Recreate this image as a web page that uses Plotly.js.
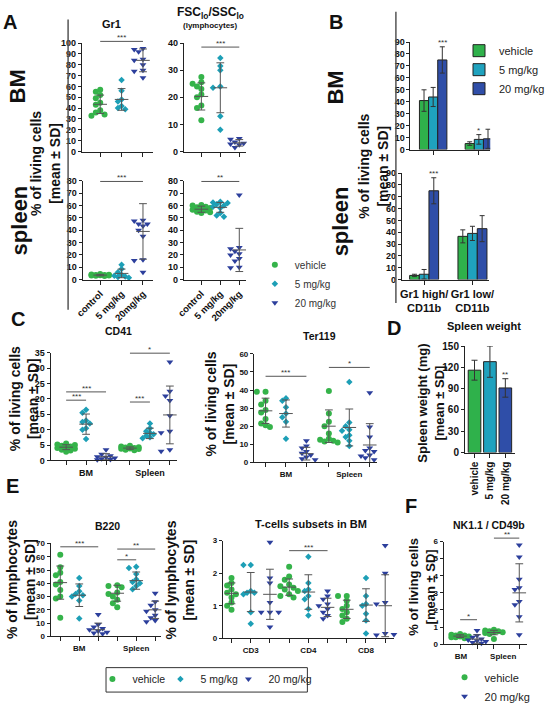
<!DOCTYPE html>
<html><head><meta charset="utf-8">
<script src="https://cdn.plot.ly/plotly-3.0.1.min.js"></script>
<style>body{margin:0;background:#fff}#c{width:550px;height:711px}</style>
</head><body><div id="c"></div>
<script>
// ================= DATA =================
const treatNames = ['vehicle','5 mg/kg','20 mg/kg'];

// Panel A (columns: control, 5 mg/kg, 20 mg/kg)
const groupsA = ['control','5 mg/kg','20mg/kg'];
const gr1BM_pts = [[57,55,52,49,45,43,38,36,34,33],[66,56,48,46,42,40,39],[95,94,92,85,84,80,75,74,68]];
const gr1BM_mean = [43.5,48,84];
const gr1BM_sd = [8.5,10,10.5];
const fscBM_pts = [[27.5,25.5,25,24,23,21,20,17,16,11.5],[34.5,31.5,30,24,23.5,13,8],[4.8,4.5,4.2,3.5,3,2.8,2.5,2,1.5]];
const fscBM_mean = [20.3,23.5,3.2];
const fscBM_sd = [5,9.2,1.2];
const gr1Spl_pts = [[4.5,4.2,4,3.8,3.6,3.5,3.3,3.2,3,2.8],[12,8.5,6,4,3,2.5,2,1.5],[48,47.5,45,45,43.5,40,35,16,15.5,6]];
const gr1Spl_mean = [3.6,5,39];
const gr1Spl_sd = [0.6,3.5,22.5];
const fscSpl_pts = [[60.5,60,59,58.5,58,57,56.5,56,55,54.5,54],[63,62.5,62,61,60,59,58,54,52,51],[68.5,26,25,23,21,20,17,15,10,9.5]];
const fscSpl_mean = [57,58.5,24];
const fscSpl_sd = [2.5,4,17.5];

// Panel B (bars, mean ± SD)
const groupsB = ['Gr1 high/<br>CD11b','Gr1 low/<br>CD11b'];
const bmVeh = [41,5],   bmVehSd = [9,1.5];
const bm5 = [44,8.5],   bm5Sd = [8,4];
const bm20 = [75,9],    bm20Sd = [11,8];
const splVeh = [3.5,36.5], splVehSd = [1,5.5];
const spl5 = [4.5,39],     spl5Sd = [4,6];
const spl20 = [75,43],     spl20Sd = [11,11];

// Panel C (columns: BM veh,5,20 | Spleen veh,5,20)
const organs = ['BM','Spleen'];
const cd41_pts = [[5.5,5.2,5,4.8,4.5,4.2,4,3.8,3.5,3.2,2.8],[16.5,15.5,13,12.5,12,10.5,10,7],[3.5,2,1.5,1.2,1,0.8,0.5,0.3,0.2],
                  [4.8,4.5,4.3,4.2,4,3.9,3.8,3.7,3.5,3.3],[12,10.5,9.5,9,8.5,8,7.5,7.2],[32,22.5,21,19.5,14.5,9.5,9,3.5,3]];
const cd41_mean = [4.3,11.8,1.2,4,8.8,14.8];
const cd41_sd = [0.8,3.3,1,0.4,1.7,9.4];
const ter_pts = [[39,39,34,32,29,27.5,24,21.5,20.5,19.5],[35.5,34,30.5,27,25,22.5,13],[12,9,8,6,5,4,3,2,1.5],
                 [39.5,27,22.5,20,16,13,12.5,12,11.5,11],[44.5,22,20,18,17.5,15,14,12,9],[38.5,19.5,14,8,6.5,6,4,3.5,2.5,1.5]];
const ter_mean = [28.5,27,4.8,20,19.3,9.6];
const ter_sd = [7,7.5,3.5,9,10.2,11.8];

// Panel D
const spwLabels = ['vehicle','5 mg/kg','20 mg/kg'];
const spwMean = [116,128,91];
const spwSd = [14,22,13];

// Panel E
const b220_pts = [[61.5,52,48,46,41,39,35,30,28.5,14],[44,38,34,32,31,30,27,13.5],[16.5,9,7,6,5,4,3,2.5,2],
                  [38.5,38,37,33,32,30,27.5,25,22],[52.5,51.5,47,43,41,40,38,35.5],[32.5,26,23.5,20,19,16,14,12,11]];
const b220_mean = [40.5,31,5,32.5,42,20];
const b220_sd = [12.5,8.5,5,6,6.5,6.5];
const tSubsets = ['CD3','CD4','CD8'];
const tcell_pts = [[1.85,1.7,1.62,1.5,1.4,1.35,1.25,1.1,1.0,0.88],[2.25,2.25,1.45,1.4,1.4,1.35,0.8,0.45],[2.95,1.85,1.7,1.1,0.8,0.8,0.8,0.35],
                   [2.2,1.9,1.8,1.65,1.6,1.55,1.5,1.45,1.35,1.3,1.25],[2.5,1.7,1.5,1.45,1.3,1.2,0.9,0.7],[1.45,1.3,1.2,1.05,1.0,0.9,0.8,0.7,0.6],
                   [1.3,1.3,1.15,1.0,0.9,0.8,0.7,0.6,0.5],[1.85,1.3,1.05,1.0,0.75,0.55,0.15],[2.85,2.0,1.1,1.05,0.15,0.1,0.12]];
const tcell_mean = [1.38,1.42,1.35,1.57,1.42,0.95,0.89,1.02,1.0];
const tcell_sd = [0.32,0.6,0.77,0.25,0.53,0.28,0.28,0.5,0.95];

// Panel F (columns: BM veh, BM 20 | Spleen veh, Spleen 20)
const nk_pts = [[0.6,0.55,0.5,0.5,0.45,0.45,0.4,0.4,0.35],[0.8,0.5,0.4,0.3,0.25,0.2,0.15,0.1,0.05],
                [0.85,0.8,0.75,0.75,0.7,0.7,0.65,0.6,0.3],[5.8,5.1,3.8,3.3,3.2,2.5,2.3,1.6,0.55]];
const nk_mean = [0.47,0.3,0.68,3.0];
const nk_sd = [0.08,0.25,0.13,1.7];

// significance brackets: [colA, colB, yLevel, stars]
const sig_gr1BM = [[0,2,101.5,'***']];
const sig_fscBM = [[0,2,38.5,'***']];
const sig_gr1Spl = [[0,2,79.5,'***']];
const sig_fscSpl = [[0,2,79.5,'**']];
const sig_cd41 = [[0,1,19.6,'***'],[0,2,22.3,'***'],[3,4,19,'***'],[3,5,34.9,'*']];
const sig_ter = [[0,2,47.6,'***'],[3,5,52.5,'*']];
const sig_b220 = [[0,2,67.5,'***'],[3,4,57.7,'*'],[3,5,65.8,'**']];
const sig_tcell = [[3,5,2.69,'***']];
const sig_nk = [[0,1,1.43,'*'],[2,3,6.2,'**']];

// ================= LAYOUT / STYLE =================
const W = 550, H = 711;
const SYM = ['circle','diamond','triangle-down'];
const SIZE = [6,5,6];
const COL = ['#35b34a','#1d9fb6','#2c3f9c'];
const BARCOL = ['#2fb14b','#1fa2be','#2f4ea8'];
const FAM = '"Liberation Sans", Arial, sans-serif';
const NARROW = '"Liberation Sans Narrow", "Liberation Sans", Arial, sans-serif';

const PANELS = {
  gr1BM:  {i:1,  px:[84,157],  py:[44,155],  xr:[-0.864,2.455], yr:[0,100], dtick:10, fs:9},
  fscBM:  {i:2,  px:[189,253], py:[44,155],  xr:[-0.923,2.359], yr:[0,40],  dtick:10, fs:9},
  gr1Spl: {i:3,  px:[85,157],  py:[185,286], xr:[-0.818,2.455], yr:[0,80],  dtick:10, fs:9},
  fscSpl: {i:4,  px:[189,253], py:[185,286], xr:[-0.923,2.359], yr:[0,80],  dtick:10, fs:9},
  barBM:  {i:5,  px:[422,504], py:[43,153],  xr:[-0.496,1.249], yr:[0,90],  dtick:10, fs:9},
  barSpl: {i:6,  px:[413,503], py:[177,286], xr:[-0.463,1.348], yr:[0,90],  dtick:10, fs:9},
  cd41:   {i:7,  px:[52,182],  py:[361,471], xr:[-0.78,5.56],   yr:[0,35],  dtick:5,  fs:9},
  ter:    {i:8,  px:[261,388], py:[362,473], xr:[-0.571,5.476], yr:[0,60],  dtick:10, fs:8},
  spw:    {i:9,  px:[478,529], py:[354,463], xr:[-0.62,2.6],    yr:[0,150], dtick:30, fs:10},
  b220:   {i:10, px:[52,166],  py:[556,651], xr:[-0.51,5.33],   yr:[0,70],  dtick:10, fs:8},
  tcell:  {i:11, px:[229,405], py:[553,653], xr:[-0.456,8.456], yr:[0,3],   dtick:1,  fs:8},
  nk:     {i:12, px:[456,542], py:[554,659], xr:[-0.98,3.97],   yr:[0,6],   dtick:1,  fs:8}
};
const colsA = [0,1,2], treatA = [0,1,2];
const colsCD41 = [0,1,2,3.2,4.2,5.2];
const colsTer = [0,1,2,3.1,4.1,5.1];
const colsB220 = [0,1,2,3,4,5];
const colsT = [0,1,2,3,4,5,6,7,8];
const colsNK = [0,1,2,3.5];
const treat6 = [0,1,2,0,1,2];
const treat9 = [0,1,2,0,1,2,0,1,2];
const treatNK = [0,2,0,2];

function ax(i){return i===1?['x','y']:['x'+i,'y'+i];}
function P(key,x,y){
  const p=PANELS[key];
  const fx=(x-p.xr[0])/(p.xr[1]-p.xr[0]), fy=(y-p.yr[0])/(p.yr[1]-p.yr[0]);
  const xp=p.px[0]+fx*(p.px[1]-p.px[0]), yp=p.py[1]-fy*(p.py[1]-p.py[0]);
  return [xp/W, 1-yp/H];
}
const traces=[], annotations=[], shapes=[];
const layout = {
  width:W, height:H, margin:{l:0,r:0,t:0,b:0}, autosize:false,
  paper_bgcolor:'#fff', plot_bgcolor:'rgba(0,0,0,0)',
  font:{family:FAM, color:'#111'}, barmode:'group', bargap:0.4, bargroupgap:0,
  showlegend:true, hovermode:false
};

function tickFont(size){return {family:NARROW, size:size, color:'#111', weight:'bold'};}
function setAxes(key, xopts){
  const p=PANELS[key], [xa,ya]=ax(p.i);
  const xn = p.i===1?'xaxis':'xaxis'+p.i, yn = p.i===1?'yaxis':'yaxis'+p.i;
  layout[yn] = {domain:[1-p.py[1]/H, 1-p.py[0]/H], range:p.yr, anchor:xa, showline:true, linecolor:'#222', linewidth:1,
    ticks:'outside', ticklen:3, tickwidth:1, tickcolor:'#222', tickmode:'linear', tick0:0, dtick:p.dtick,
    showgrid:false, zeroline:false, tickfont:tickFont(p.fs), fixedrange:true};
  layout[xn] = Object.assign({domain:[p.px[0]/W, p.px[1]/W], range:p.xr, anchor:ya, showline:true, linecolor:'#222', linewidth:1,
    ticks:'outside', ticklen:4, tickwidth:1, tickcolor:'#222', tickmode:'array', showgrid:false, zeroline:false,
    tickfont:tickFont(p.fs), fixedrange:true}, xopts);
}

function scatterPanel(key, pts, means, sds, cols, treat, legendId){
  const p=PANELS[key], [xa,ya]=ax(p.i);
  const ux=(p.px[1]-p.px[0])/(p.xr[1]-p.xr[0]);
  const uy=(p.py[1]-p.py[0])/(p.yr[1]-p.yr[0]);
  const xs=[[],[],[]], ys=[[],[],[]];
  pts.forEach((col,j)=>{
    const t=treat[j], d=SIZE[t], placed=[];
    col.forEach(v=>{
      const yp=v*uy; let best=0, bestD=-1;
      for(const k of [0,-1,1,-2,2]){
        const dx=k*d*0.75;
        const md=placed.length?Math.min(...placed.map(q=>Math.hypot(q[0]-dx,q[1]-yp))):1e9;
        if(md>=d*0.8){best=dx;bestD=md;break;}
        if(md>bestD){bestD=md;best=dx;}
      }
      placed.push([best,yp]);
      xs[t].push(cols[j]+best/ux); ys[t].push(v);
    });
  });
  for(let t=0;t<3;t++){
    if(!xs[t].length) continue;
    traces.push({type:'scatter', mode:'markers', x:xs[t], y:ys[t], xaxis:xa, yaxis:ya, name:treatNames[t],
      marker:{symbol:SYM[t], size:SIZE[t], color:COL[t], line:{width:0}}, cliponaxis:false,
      showlegend:!!legendId, legend:legendId||'legend'});
  }
  const mx=[], my=[], mw=7/ux, cw=4/ux;
  cols.forEach((c,j)=>{
    const m=means[j], s=sds[j];
    mx.push(c-mw,c+mw,null,c,c,null,c-cw,c+cw,null,c-cw,c+cw,null);
    my.push(m,m,null,m-s,m+s,null,m+s,m+s,null,m-s,m-s,null);
  });
  traces.push({type:'scatter', mode:'lines', x:mx, y:my, xaxis:xa, yaxis:ya, line:{color:'#555',width:1},
    showlegend:false, hoverinfo:'skip'});
}

function sig(key, cols, list){
  list.forEach(([a,b,y,txt])=>{
    const p1=P(key,cols[a],y), p2=P(key,cols[b],y);
    shapes.push({type:'line', xref:'paper', yref:'paper', x0:p1[0], y0:p1[1], x1:p2[0], y1:p2[1], line:{color:'#555',width:1}});
    annotations.push({xref:'paper', yref:'paper', x:(p1[0]+p2[0])/2, y:p1[1], text:txt, showarrow:false,
      xanchor:'center', yanchor:'bottom', yshift:-3, font:{family:FAM,size:8,color:'#333'}});
  });
}
function star(key,x,y,txt){
  const q=P(key,x,y);
  annotations.push({xref:'paper', yref:'paper', x:q[0], y:q[1], text:txt, showarrow:false,
    xanchor:'center', yanchor:'bottom', yshift:-2, font:{family:FAM,size:8,color:'#333'}});
}
function A(x,y,text,size,o){
  return Object.assign({xref:'paper', yref:'paper', x:x/W, y:1-y/H, text:text, showarrow:false,
    xanchor:'center', yanchor:'middle', font:{family:FAM,size:size,color:'#111'}}, o||{});
}

// ---------- Panel A ----------
setAxes('gr1BM', {tickvals:colsA, showticklabels:false});
setAxes('fscBM', {tickvals:colsA, showticklabels:false});
setAxes('gr1Spl', {tickvals:colsA, ticktext:groupsA, tickangle:-45, tickfont:tickFont(9.5)});
setAxes('fscSpl', {tickvals:colsA, ticktext:groupsA, tickangle:-45, tickfont:tickFont(9.5)});
scatterPanel('gr1BM', gr1BM_pts, gr1BM_mean, gr1BM_sd, colsA, treatA);
scatterPanel('fscBM', fscBM_pts, fscBM_mean, fscBM_sd, colsA, treatA);
scatterPanel('gr1Spl', gr1Spl_pts, gr1Spl_mean, gr1Spl_sd, colsA, treatA);
scatterPanel('fscSpl', fscSpl_pts, fscSpl_mean, fscSpl_sd, colsA, treatA, 'legend');
sig('gr1BM', colsA, sig_gr1BM); sig('fscBM', colsA, sig_fscBM);
sig('gr1Spl', colsA, sig_gr1Spl); sig('fscSpl', colsA, sig_fscSpl);

// ---------- Panel B ----------
setAxes('barBM', {tickvals:[0,1], showticklabels:false});
setAxes('barSpl', {tickvals:[0,1], ticktext:groupsB, tickfont:{family:FAM,size:11,color:'#111',weight:'bold'}});
const bmVals=[bmVeh,bm5,bm20], bmSds=[bmVehSd,bm5Sd,bm20Sd];
const splVals=[splVeh,spl5,spl20], splSds=[splVehSd,spl5Sd,spl20Sd];
[['barBM',bmVals,bmSds,true],['barSpl',splVals,splSds,false]].forEach(([key,vals,sds,leg])=>{
  const [xa,ya]=ax(PANELS[key].i);
  vals.forEach((v,t)=>{
    traces.push({type:'bar', x:[0,1], y:v, xaxis:xa, yaxis:ya, name:treatNames[t],
      marker:{color:BARCOL[t], line:{color:'#222',width:1}},
      error_y:{type:'data', array:sds[t], visible:true, color:'#333', thickness:1, width:2.5},
      showlegend:leg, legend:'legend2'});
  });
});
star('barBM', 0.2, bm20[0]+bm20Sd[0], '***');
star('barBM', 1.0, bm5[1]+bm5Sd[1], '*');
star('barSpl', 0.2, spl20[0]+spl20Sd[0], '***');

// ---------- Panel C ----------
setAxes('cd41', {tickvals:colsCD41, ticktext:['',organs[0],'','',organs[1],'']});
setAxes('ter', {tickvals:colsTer, ticktext:['',organs[0],'','',organs[1],'']});
scatterPanel('cd41', cd41_pts, cd41_mean, cd41_sd, colsCD41, treat6);
scatterPanel('ter', ter_pts, ter_mean, ter_sd, colsTer, treat6);
sig('cd41', colsCD41, sig_cd41); sig('ter', colsTer, sig_ter);

// ---------- Panel D ----------
setAxes('spw', {tickvals:[0,1,2], ticktext:spwLabels, tickangle:-90, tickfont:tickFont(10)});
{
  const [xa,ya]=ax(PANELS.spw.i);
  traces.push({type:'bar', x:[0,1,2], y:spwMean, width:0.82, xaxis:xa, yaxis:ya, showlegend:false,
    marker:{color:BARCOL, line:{color:'#222',width:1}},
    error_y:{type:'data', array:spwSd, visible:true, color:'#333', thickness:1, width:3}});
  star('spw', 2, spwMean[2]+spwSd[2], '**');
}

// ---------- Panel E ----------
setAxes('b220', {tickvals:colsB220, ticktext:['',organs[0],'','',organs[1],'']});
setAxes('tcell', {tickvals:colsT, ticktext:['',tSubsets[0],'','',tSubsets[1],'','',tSubsets[2],'']});
scatterPanel('b220', b220_pts, b220_mean, b220_sd, colsB220, treat6);
scatterPanel('tcell', tcell_pts, tcell_mean, tcell_sd, colsT, treat9, 'legend3');
// spacer entry so the last legend label keeps its full width inside the legend clip
traces.push({type:'scatter', mode:'markers', x:[null], y:[null], xaxis:'x11', yaxis:'y11', name:' ',
  marker:{size:1, color:'rgba(0,0,0,0)'}, showlegend:true, legend:'legend3', hoverinfo:'skip'});
sig('b220', colsB220, sig_b220); sig('tcell', colsT, sig_tcell);

// ---------- Panel F ----------
setAxes('nk', {tickvals:[0.05,2.55], ticktext:organs, tickcolor:'rgba(0,0,0,0)',
  minor:{tickmode:'array', tickvals:colsNK, ticks:'outside', ticklen:4, tickwidth:1, tickcolor:'#222'}});
scatterPanel('nk', nk_pts, nk_mean, nk_sd, colsNK, treatNK, 'legend4');
sig('nk', colsNK, sig_nk);

// ---------- Text ----------
annotations.push(
  A(10,22,'<b>A</b>',20), A(345,22,'<b>B</b>',20), A(19,326,'<b>C</b>',20),
  A(405,336,'<b>D</b>',20), A(13,497,'<b>E</b>',20), A(423,518,'<b>F</b>',20),
  A(18,89,'<b>BM</b>',22,{textangle:-90}), A(20,225,'<b>spleen</b>',22,{textangle:-90}),
  A(345,90,'<b>BM</b>',22,{textangle:-90}), A(350,226,'<b>spleen</b>',22,{textangle:-90}),
  A(47,167,'<b>% of living cells<br>[mean ± SD]</b>',14,{textangle:-90}),
  A(384,170,'<b>% of living cells<br>[mean ± SD]</b>',14,{textangle:-90}),
  A(115,25,'<b>Gr1</b>',11),
  A(216,13,'<b>FSC<sub>lo</sub>/SSC<sub>lo</sub></b>',12),
  A(216,26,'<b>(lymphocytes)</b>',8),
  A(122,339,'<b>CD41</b>',10.5), A(328,344,'<b>Ter119</b>',10.5), A(498,334,'<b>Spleen weight</b>',11),
  A(24,408,'<b>% of living cells<br>[mean ± SD]</b>',14,{textangle:-90}),
  A(226,413,'<b>% of living cells<br>[mean ± SD]</b>',14,{textangle:-90}),
  A(443,412,'<b>Spleen weight (mg)<br>[mean ± SD]</b>',13,{textangle:-90}),
  A(111,538,'<b>B220</b>',10.5), A(320,536,'<b>T-cells subsets in BM</b>',11), A(503,537,'<b>NK1.1 / CD49b</b>',10.5),
  A(21,593,'<b>% of lymphocytes<br>[mean ± SD]</b>',14,{textangle:-90}),
  A(185,593,'<b>% of lymphocytes<br>[mean ± SD]</b>',14,{textangle:-90}),
  A(434,600,'<b>% of living cells<br>[mean ± SD]</b>',13,{textangle:-90})
);
shapes.push(
  {type:'line', xref:'paper', yref:'paper', x0:70/W, x1:70/W, y0:1-20/H, y1:1-317/H, line:{color:'#555',width:1.5}},
  {type:'line', xref:'paper', yref:'paper', x0:407/W, x1:407/W, y0:1-12/H, y1:1-310/H, line:{color:'#555',width:1.5}},
  {type:'rect', xref:'paper', yref:'paper', x0:109/W, x1:316/W, y0:1-708/H, y1:1-683/H, line:{color:'#333',width:1}, fillcolor:'rgba(0,0,0,0)'}
);

// ---------- Legends ----------
const LG = {bgcolor:'rgba(0,0,0,0)', borderwidth:0, xanchor:'left', yanchor:'top', orientation:'v'};
layout.legend  = Object.assign({}, LG, {x:262/W, y:1-256/H, font:{family:FAM,size:10,color:'#333'}});
layout.legend2 = Object.assign({}, LG, {x:472/W, y:1-37/H, font:{family:FAM,size:11,color:'#222'}});
layout.legend3 = Object.assign({}, LG, {x:95/W, y:0.002, yanchor:'bottom', orientation:'h',
  entrywidth:23, entrywidthmode:'pixels', font:{family:FAM,size:10.5,color:'#222'}});
layout.legend4 = Object.assign({}, LG, {x:457/W, y:1-678/H, font:{family:FAM,size:11,color:'#222'}});

layout.annotations = annotations;
layout.shapes = shapes;
Plotly.newPlot('c', traces, layout, {staticPlot:true, displayModeBar:false});
</script>
</body></html>
